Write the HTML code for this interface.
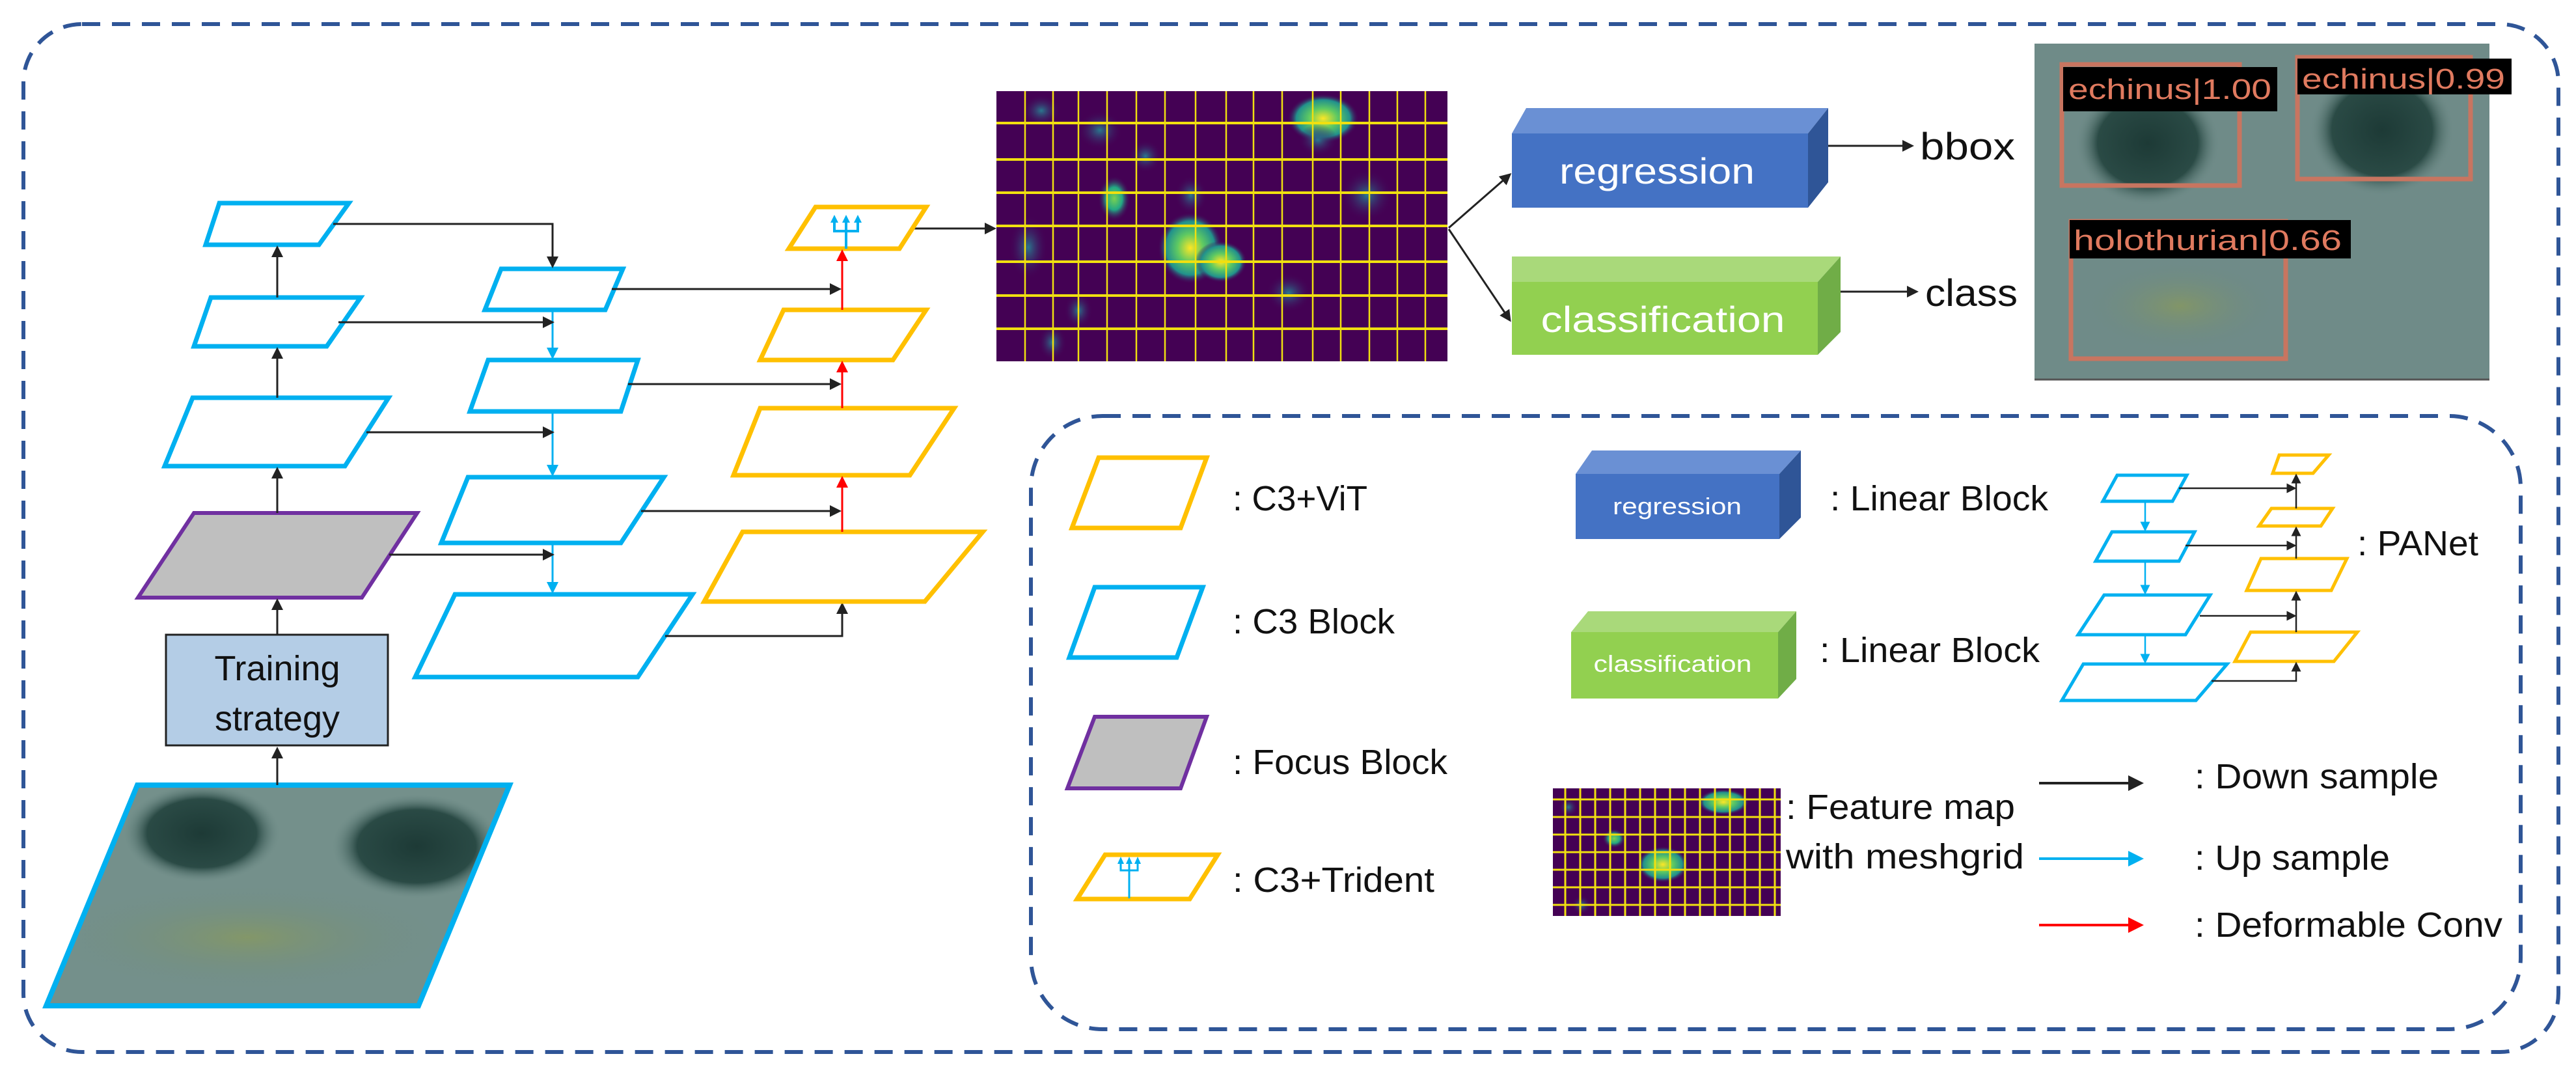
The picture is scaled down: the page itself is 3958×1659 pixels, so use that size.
<!DOCTYPE html>
<html><head><meta charset="utf-8"><style>
html,body{margin:0;padding:0;background:#fff;}
svg{display:block;}
text{font-family:"Liberation Sans",sans-serif;}
</style></head><body>
<svg width="3958" height="1659" viewBox="0 0 3958 1659" xmlns="http://www.w3.org/2000/svg">
<defs>
<marker id="ak" markerWidth="6" markerHeight="6" refX="5" refY="3" orient="auto" markerUnits="strokeWidth"><path d="M0,0 L6,3 L0,6 z" fill="#222"/></marker>
<marker id="ab" markerWidth="6" markerHeight="6" refX="5" refY="3" orient="auto" markerUnits="strokeWidth"><path d="M0,0 L6,3 L0,6 z" fill="#00b0f0"/></marker>
<marker id="ar" markerWidth="6" markerHeight="6" refX="5" refY="3" orient="auto" markerUnits="strokeWidth"><path d="M0,0 L6,3 L0,6 z" fill="#ff0000"/></marker>
<radialGradient id="gy"><stop offset="0" stop-color="#fde725"/><stop offset="0.4" stop-color="#5ec962"/><stop offset="0.75" stop-color="#21918c"/><stop offset="1" stop-color="#440154" stop-opacity="0"/></radialGradient>
<radialGradient id="gg"><stop offset="0" stop-color="#7ad151"/><stop offset="0.5" stop-color="#22a884"/><stop offset="1" stop-color="#440154" stop-opacity="0"/></radialGradient>
<radialGradient id="gt"><stop offset="0" stop-color="#2a788e"/><stop offset="1" stop-color="#440154" stop-opacity="0"/></radialGradient>
<radialGradient id="dk"><stop offset="0" stop-color="#1d3a36"/><stop offset="0.7" stop-color="#2a4a45"/><stop offset="1" stop-color="#6a8884" stop-opacity="0"/></radialGradient>
<radialGradient id="gr"><stop offset="0" stop-color="#8a9a5a"/><stop offset="1" stop-color="#6a8884" stop-opacity="0"/></radialGradient>
<clipPath id="imgclip"><polygon points="211,1206 783,1206 643,1545 71,1545"/></clipPath>
</defs>

<rect x="36" y="37" width="3895" height="1579" rx="90" fill="none" stroke="#2f5597" stroke-width="6" stroke-dasharray="28,18"/>
<rect x="1584" y="639" width="2289" height="942" rx="110" fill="none" stroke="#2f5597" stroke-width="6" stroke-dasharray="28,18"/>

<g fill="none" stroke="#00b0f0" stroke-width="7">
<polygon points="337,312 536,312 490,376 316,376"/>
<polygon points="324,457 554,457 502,532 298,532"/>
<polygon points="296,611 597,611 530,716 253,716"/>
</g>
<polygon points="298,788 641,788 556,918 212,918" fill="#bfbfbf" stroke="#7030a0" stroke-width="6"/>
<rect x="255" y="975" width="341" height="170" fill="#b4cde6" stroke="#222" stroke-width="3"/>
<text x="426" y="1045" font-size="54" text-anchor="middle" fill="#111">Training</text>
<text x="426" y="1122" font-size="54" text-anchor="middle" fill="#111">strategy</text>
<g clip-path="url(#imgclip)">
<rect x="60" y="1200" width="740" height="360" fill="#74908b"/>
<ellipse cx="380" cy="1440" rx="300" ry="80" fill="url(#gr)" opacity="0.7"/>
<ellipse cx="310" cy="1280" rx="120" ry="75" fill="url(#dk)"/>
<ellipse cx="640" cy="1300" rx="130" ry="80" fill="url(#dk)"/>
</g>
<polygon points="211,1206 783,1206 643,1545 71,1545" fill="none" stroke="#00b0f0" stroke-width="8"/>
<g stroke="#222" stroke-width="3" marker-end="url(#ak)">
<line x1="426" y1="1206" x2="426" y2="1150"/>
<line x1="426" y1="975" x2="426" y2="922"/>
<line x1="426" y1="788" x2="426" y2="720"/>
<line x1="426" y1="611" x2="426" y2="536"/>
<line x1="426" y1="457" x2="426" y2="380"/>
</g>

<g fill="none" stroke="#00b0f0" stroke-width="7">
<polygon points="770,413 957,413 930,476 745,476"/>
<polygon points="750,553 980,553 954,632 722,632"/>
<polygon points="719,733 1020,733 954,834 678,834"/>
<polygon points="699,913 1064,913 980,1040 638,1040"/>
</g>
<g stroke="#00b0f0" stroke-width="3" marker-end="url(#ab)">
<line x1="849" y1="476" x2="849" y2="549"/>
<line x1="849" y1="632" x2="849" y2="729"/>
<line x1="849" y1="834" x2="849" y2="909"/>
</g>
<g fill="none" stroke="#222" stroke-width="3" marker-end="url(#ak)">
<polyline points="512,344 849,344 849,409"/>
<line x1="520" y1="495" x2="849" y2="495"/>
<line x1="563" y1="664" x2="849" y2="664"/>
<line x1="598" y1="852" x2="849" y2="852"/>
<line x1="940" y1="444" x2="1290" y2="444"/>
<line x1="965" y1="590" x2="1290" y2="590"/>
<line x1="985" y1="785" x2="1290" y2="785"/>
<polyline points="1022,977 1294,977 1294,928"/>
<line x1="1402" y1="351" x2="1528" y2="351"/>
</g>

<g fill="none" stroke="#ffc000" stroke-width="7">
<polygon points="1253,318 1423,318 1382,382 1212,382"/>
<polygon points="1204,476 1423,476 1372,553 1168,553"/>
<polygon points="1168,627 1466,627 1398,730 1127,730"/>
<polygon points="1141,817 1510,817 1421,924 1082,924"/>
</g>
<g stroke="#ff0000" stroke-width="3" marker-end="url(#ar)">
<line x1="1294" y1="817" x2="1294" y2="734"/>
<line x1="1294" y1="627" x2="1294" y2="557"/>
<line x1="1294" y1="476" x2="1294" y2="386"/>
</g>
<g stroke="#00b0f0" stroke-width="4" fill="none">
<polyline points="1282,340 1282,355 1318,355 1318,340"/>
<line x1="1300" y1="340" x2="1300" y2="382"/>
</g>
<g fill="#00b0f0">
<polygon points="1276,342 1282,330 1288,342"/><polygon points="1294,342 1300,330 1306,342"/><polygon points="1312,342 1318,330 1324,342"/>
</g>

<g>
<rect x="1531" y="140" width="693" height="415" fill="#440154"/>
<ellipse cx="1600" cy="170" rx="30" ry="25" fill="url(#gt)"/>
<ellipse cx="1690" cy="200" rx="35" ry="30" fill="url(#gt)"/>
<ellipse cx="2033" cy="182" rx="55" ry="38" fill="url(#gy)"/>
<ellipse cx="2025" cy="215" rx="30" ry="25" fill="url(#gt)"/>
<ellipse cx="1829" cy="381" rx="50" ry="55" fill="url(#gy)"/>
<ellipse cx="1876" cy="402" rx="40" ry="32" fill="url(#gy)"/>
<ellipse cx="1712" cy="305" rx="25" ry="35" fill="url(#gg)"/>
<ellipse cx="1830" cy="300" rx="25" ry="30" fill="url(#gt)"/>
<ellipse cx="1657" cy="477" rx="22" ry="28" fill="url(#gt)"/>
<ellipse cx="1617" cy="526" rx="22" ry="28" fill="url(#gt)"/>
<ellipse cx="1580" cy="380" rx="30" ry="50" fill="url(#gt)"/>
<ellipse cx="1760" cy="240" rx="25" ry="25" fill="url(#gt)"/>
<ellipse cx="2100" cy="300" rx="40" ry="40" fill="url(#gt)"/>
<ellipse cx="1980" cy="450" rx="35" ry="30" fill="url(#gt)"/>
<g stroke="#f0e010" stroke-width="2.5">
<line x1="1575" y1="140" x2="1575" y2="555"/><line x1="1618" y1="140" x2="1618" y2="555"/><line x1="1657" y1="140" x2="1657" y2="555"/><line x1="1701" y1="140" x2="1701" y2="555"/><line x1="1746" y1="140" x2="1746" y2="555"/><line x1="1790" y1="140" x2="1790" y2="555"/><line x1="1837" y1="140" x2="1837" y2="555"/><line x1="1884" y1="140" x2="1884" y2="555"/><line x1="1926" y1="140" x2="1926" y2="555"/><line x1="1970" y1="140" x2="1970" y2="555"/><line x1="2017" y1="140" x2="2017" y2="555"/><line x1="2060" y1="140" x2="2060" y2="555"/><line x1="2104" y1="140" x2="2104" y2="555"/><line x1="2147" y1="140" x2="2147" y2="555"/><line x1="2190" y1="140" x2="2190" y2="555"/>
</g>
<g stroke="#f0e010" stroke-width="4">
<line x1="1531" y1="189" x2="2224" y2="189"/><line x1="1531" y1="245" x2="2224" y2="245"/><line x1="1531" y1="296" x2="2224" y2="296"/><line x1="1531" y1="347" x2="2224" y2="347"/><line x1="1531" y1="402" x2="2224" y2="402"/><line x1="1531" y1="454" x2="2224" y2="454"/><line x1="1531" y1="505" x2="2224" y2="505"/>
</g>
</g>
<g stroke="#222" stroke-width="3" fill="none" marker-end="url(#ak)">
<line x1="2226" y1="350" x2="2320" y2="268"/>
<line x1="2226" y1="352" x2="2320" y2="492"/>
<line x1="2809" y1="224" x2="2938" y2="224"/>
<line x1="2828" y1="448" x2="2945" y2="448"/>
</g>

<polygon points="2323,205 2345,166 2809,166 2778,205" fill="#6a90d4"/>
<polygon points="2778,205 2809,166 2809,280 2778,319" fill="#2f5597"/>
<rect x="2323" y="205" width="455" height="114" fill="#4472c4"/>
<text x="2546" y="282" font-size="56" fill="#fff" text-anchor="middle" textLength="300" lengthAdjust="spacingAndGlyphs">regression</text>
<polygon points="2323,433 2323,394 2828,394 2793,433" fill="#a9d97a"/>
<polygon points="2793,433 2828,394 2828,510 2793,545" fill="#70ad47"/>
<rect x="2323" y="433" width="470" height="112" fill="#92d050"/>
<text x="2555" y="510" font-size="56" fill="#fff" text-anchor="middle" textLength="375" lengthAdjust="spacingAndGlyphs">classification</text>
<text x="2950" y="245" font-size="58" fill="#111" textLength="146" lengthAdjust="spacingAndGlyphs">bbox</text>
<text x="2958" y="470" font-size="58" fill="#111" textLength="142" lengthAdjust="spacingAndGlyphs">class</text>

<rect x="3126" y="67" width="699" height="517" fill="#6f8b88"/>
<ellipse cx="3300" cy="220" rx="110" ry="95" fill="url(#dk)"/>
<ellipse cx="3660" cy="200" rx="110" ry="100" fill="url(#dk)"/>
<ellipse cx="3350" cy="470" rx="150" ry="70" fill="url(#gr)" opacity="0.7"/>
<line x1="3126" y1="583" x2="3825" y2="583" stroke="#555" stroke-width="3"/>
<g fill="none" stroke="#c87560" stroke-width="7">
<rect x="3168" y="99" width="273" height="186"/>
<rect x="3530" y="88" width="266" height="187"/>
<rect x="3182" y="340" width="330" height="211"/>
</g>
<rect x="3170" y="103" width="329" height="68" fill="#000"/>
<rect x="3530" y="90" width="329" height="55" fill="#000"/>
<rect x="3180" y="338" width="432" height="59" fill="#000"/>
<g fill="#e07a5f" font-size="44">
<text x="3178" y="152" textLength="312" lengthAdjust="spacingAndGlyphs">echinus|1.00</text>
<text x="3537" y="136" textLength="312" lengthAdjust="spacingAndGlyphs">echinus|0.99</text>
<text x="3186" y="384" textLength="412" lengthAdjust="spacingAndGlyphs">holothurian|0.66</text>
</g>

<polygon points="1688,703 1854,703 1814,811 1647,811" fill="none" stroke="#ffc000" stroke-width="7"/>
<polygon points="1682,902 1848,902 1808,1010 1643,1010" fill="none" stroke="#00b0f0" stroke-width="7"/>
<polygon points="1682,1101 1854,1101 1814,1211 1640,1211" fill="#bfbfbf" stroke="#7030a0" stroke-width="6"/>
<polygon points="1698,1313 1871,1313 1828,1381 1655,1381" fill="none" stroke="#ffc000" stroke-width="7"/>
<g stroke="#00b0f0" stroke-width="3" fill="none">
<polyline points="1722,1325 1722,1337 1748,1337 1748,1325"/><line x1="1735" y1="1325" x2="1735" y2="1380"/>
</g>
<g fill="#00b0f0"><polygon points="1717,1327 1722,1316 1727,1327"/><polygon points="1730,1327 1735,1316 1740,1327"/><polygon points="1743,1327 1748,1316 1753,1327"/></g>
<g font-size="54" fill="#111">
<text x="1894" y="784" textLength="207" lengthAdjust="spacingAndGlyphs">: C3+ViT</text>
<text x="1894" y="973" textLength="249" lengthAdjust="spacingAndGlyphs">: C3 Block</text>
<text x="1894" y="1189" textLength="330" lengthAdjust="spacingAndGlyphs">: Focus Block</text>
<text x="1894" y="1370" textLength="310" lengthAdjust="spacingAndGlyphs">: C3+Trident</text>
<text x="2812" y="784" textLength="335" lengthAdjust="spacingAndGlyphs">: Linear Block</text>
<text x="2796" y="1017" textLength="338" lengthAdjust="spacingAndGlyphs">: Linear Block</text>
<text x="2744" y="1258" textLength="352" lengthAdjust="spacingAndGlyphs">: Feature map</text>
<text x="2744" y="1334" textLength="366" lengthAdjust="spacingAndGlyphs">with meshgrid</text>
<text x="3372" y="1211" textLength="375" lengthAdjust="spacingAndGlyphs">: Down sample</text>
<text x="3372" y="1336" textLength="300" lengthAdjust="spacingAndGlyphs">: Up sample</text>
<text x="3372" y="1439" textLength="473" lengthAdjust="spacingAndGlyphs">: Deformable Conv</text>
<text x="3622" y="853" textLength="186" lengthAdjust="spacingAndGlyphs">: PANet</text>
</g>
<polygon points="2421,728 2446,692 2767,692 2734,728" fill="#6a90d4"/>
<polygon points="2734,728 2767,692 2767,795 2734,828" fill="#2f5597"/>
<rect x="2421" y="728" width="313" height="100" fill="#4472c4"/>
<text x="2577" y="790" font-size="36" fill="#fff" text-anchor="middle" textLength="198" lengthAdjust="spacingAndGlyphs">regression</text>
<polygon points="2414,971 2440,939 2760,939 2732,971" fill="#a9d97a"/>
<polygon points="2732,971 2760,939 2760,1043 2732,1073" fill="#70ad47"/>
<rect x="2414" y="971" width="318" height="102" fill="#92d050"/>
<text x="2570" y="1032" font-size="36" fill="#fff" text-anchor="middle" textLength="243" lengthAdjust="spacingAndGlyphs">classification</text>
<rect x="2386" y="1211" width="350" height="196" fill="#440154"/>
<ellipse cx="2648" cy="1232" rx="40" ry="20" fill="url(#gy)"/>
<ellipse cx="2555" cy="1328" rx="40" ry="28" fill="url(#gy)"/>
<ellipse cx="2480" cy="1288" rx="18" ry="15" fill="url(#gg)"/>
<ellipse cx="2430" cy="1390" rx="15" ry="15" fill="url(#gt)"/>
<ellipse cx="2410" cy="1240" rx="15" ry="15" fill="url(#gt)"/>
<g stroke="#f0e010" stroke-width="3">
<line x1="2405" y1="1211" x2="2405" y2="1407"/><line x1="2428" y1="1211" x2="2428" y2="1407"/><line x1="2451" y1="1211" x2="2451" y2="1407"/><line x1="2474" y1="1211" x2="2474" y2="1407"/><line x1="2497" y1="1211" x2="2497" y2="1407"/><line x1="2520" y1="1211" x2="2520" y2="1407"/><line x1="2543" y1="1211" x2="2543" y2="1407"/><line x1="2566" y1="1211" x2="2566" y2="1407"/><line x1="2589" y1="1211" x2="2589" y2="1407"/><line x1="2612" y1="1211" x2="2612" y2="1407"/><line x1="2635" y1="1211" x2="2635" y2="1407"/><line x1="2658" y1="1211" x2="2658" y2="1407"/><line x1="2681" y1="1211" x2="2681" y2="1407"/><line x1="2704" y1="1211" x2="2704" y2="1407"/><line x1="2727" y1="1211" x2="2727" y2="1407"/>
<line x1="2386" y1="1228" x2="2736" y2="1228"/><line x1="2386" y1="1255" x2="2736" y2="1255"/><line x1="2386" y1="1282" x2="2736" y2="1282"/><line x1="2386" y1="1309" x2="2736" y2="1309"/><line x1="2386" y1="1336" x2="2736" y2="1336"/><line x1="2386" y1="1363" x2="2736" y2="1363"/><line x1="2386" y1="1390" x2="2736" y2="1390"/>
</g>
<line x1="3133" y1="1203" x2="3290" y2="1203" stroke="#222" stroke-width="4" marker-end="url(#ak)"/>
<line x1="3133" y1="1319" x2="3290" y2="1319" stroke="#00b0f0" stroke-width="4" marker-end="url(#ab)"/>
<line x1="3133" y1="1421" x2="3290" y2="1421" stroke="#ff0000" stroke-width="4" marker-end="url(#ar)"/>
<g fill="none" stroke="#00b0f0" stroke-width="5">
<polygon points="3253,730 3360,730 3338,770 3231,770"/>
<polygon points="3245,817 3372,817 3348,862 3220,862"/>
<polygon points="3233,914 3396,914 3358,975 3193,975"/>
<polygon points="3201,1020 3422,1020 3374,1076 3168,1076"/>
</g>
<g fill="none" stroke="#ffc000" stroke-width="5">
<polygon points="3502,699 3578,699 3554,727 3492,727"/>
<polygon points="3490,781 3584,781 3566,808 3471,808"/>
<polygon points="3474,858 3606,858 3582,907 3452,907"/>
<polygon points="3458,971 3622,971 3586,1016 3434,1016"/>
</g>
<g stroke="#00b0f0" stroke-width="2.5" marker-end="url(#ab)">
<line x1="3296" y1="770" x2="3296" y2="814"/><line x1="3296" y1="862" x2="3296" y2="911"/><line x1="3296" y1="975" x2="3296" y2="1017"/>
</g>
<g stroke="#222" stroke-width="2.5" fill="none" marker-end="url(#ak)">
<line x1="3348" y1="750" x2="3526" y2="750"/>
<line x1="3358" y1="838" x2="3526" y2="838"/>
<line x1="3380" y1="946" x2="3526" y2="946"/>
<polyline points="3398,1046 3528,1046 3528,1019"/>
<line x1="3528" y1="971" x2="3528" y2="910"/>
<line x1="3528" y1="858" x2="3528" y2="811"/>
<line x1="3528" y1="781" x2="3528" y2="730"/>
</g>
</svg>
</body></html>
